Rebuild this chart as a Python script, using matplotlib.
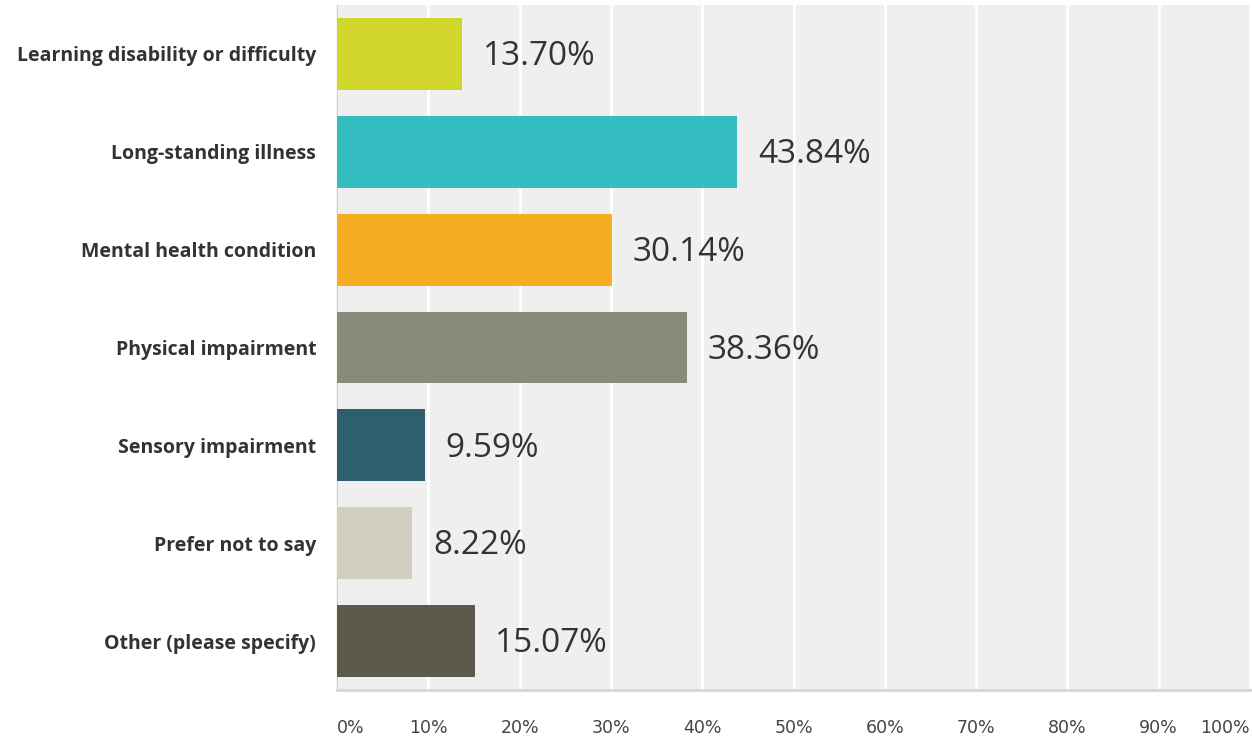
import matplotlib
matplotlib.use("Agg")
import matplotlib.pyplot as plt

categories = ["Learning disability or difficulty", "Long-standing illness",
              "Mental health condition", "Physical impairment",
              "Sensory impairment", "Prefer not to say", "Other (please specify)"]
values = [13.70, 43.84, 30.14, 38.36, 9.59, 8.22, 15.07]
colors = ["#d0d62a", "#35bec1", "#f5ae21", "#898a79", "#2e5f6c", "#d0cfc0", "#5c5a4a"]
xticks = [0, 10, 20, 30, 40, 50, 60, 70, 80, 90, 100]
xtick_labels = [f"{t}%" for t in xticks]

fig = plt.figure(figsize=(12.52, 7.37), dpi=100)
ax = fig.add_axes([337/1252, 47/737, (1250-337)/1252, (690-5)/737])
ax.set_facecolor("#efefef")

ypos = list(range(len(categories)))
ax.barh(ypos, values, height=0.735, color=colors, zorder=3)
for y, v in zip(ypos, values):
    ax.annotate(f"{v:.2f}%", xy=(v, y), xytext=(15, -2), textcoords="offset points",
                va="center", ha="left", fontsize=24, color="#333333",
                family=["Open Sans", "DejaVu Sans"], zorder=4)

ax.set_xlim(0, 100)
ax.set_ylim(len(categories) - 0.5, -0.5)
ax.set_yticks(ypos)
ax.set_yticklabels(categories, fontsize=14, fontweight="bold", color="#333333",
                   family=["Open Sans", "DejaVu Sans"])
ax.set_xticks(xticks)
ax.set_xticklabels(xtick_labels, fontsize=12.5, color="#444444",
                   family=["DejaVu Sans"])
labels = ax.get_xticklabels()
labels[0].set_ha("left")
labels[-1].set_ha("right")
ax.tick_params(axis="y", length=0, pad=15)
ax.tick_params(axis="x", length=0, pad=21)
ax.grid(axis="x", color="white", linewidth=2, zorder=1)
for s in ["top", "right"]:
    ax.spines[s].set_visible(False)
ax.spines["left"].set_color("#cccccc")
ax.spines["left"].set_linewidth(1)
ax.spines["bottom"].set_color("#d6d6d6")
ax.spines["bottom"].set_linewidth(2)

fig.savefig("out.png", dpi=100)
